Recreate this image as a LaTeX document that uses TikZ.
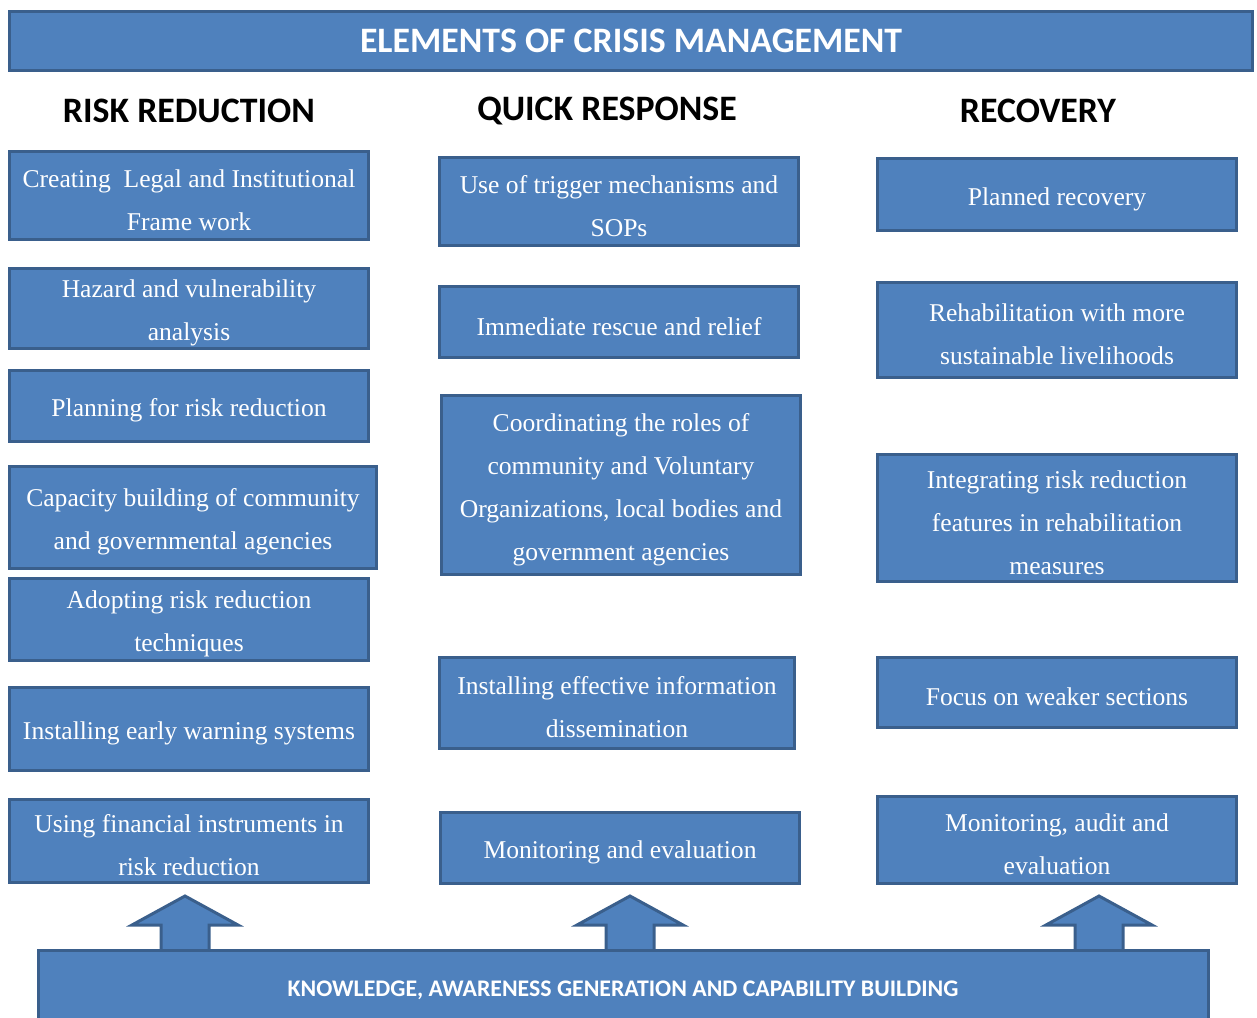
\documentclass[tikz,border=0pt]{standalone}
\usepackage{fontspec}
\setmainfont{Liberation Serif}
\newfontfamily\headfont{Carlito}
\usepackage{xcolor}
\usepackage{tikz}
\usetikzlibrary{positioning}
\definecolor{colorFill}{HTML}{4F81BD}
\definecolor{colorEdge}{HTML}{3A5F8C}
\tikzset{
   box/.style={draw=colorEdge,fill=colorFill,line width=3pt,text=white,
      text width=350pt,align=flush center,inner sep=2pt,
      font=\fontsize{25.6}{43}\selectfont,
      execute at begin node={\rule{0pt}{27pt}}},
   banner/.style={draw=colorEdge,fill=colorFill,line width=3pt,text=white,
      font=\headfont\bfseries\fontsize{35.8}{40}\selectfont},
   colhead/.style={text=black,font=\headfont\bfseries\fontsize{35.8}{40}\selectfont},
   uparrow/.style={draw=colorEdge,fill=colorFill,line width=3pt,line join=miter},
}

\begin{document}
\begin{tikzpicture}[x=1pt,y=-1pt]

\useasboundingbox (0,0) rectangle (1257,1017);

% =========================================================
% title
% =========================================================

\node[banner, minimum width=1243pt, minimum height=59pt] (title) at (631,41)
{ELEMENTS OF CRISIS MANAGEMENT};

\node[colhead] (headRisk) at (189,111) {RISK REDUCTION};
\node[colhead] (headResp) at (607,111) {QUICK RESPONSE};
\node[colhead] (headRecov) at (1038,111) {RECOVERY};


% =========================================================
% risk reduction
% =========================================================

\node[box, minimum width=359pt, minimum height=88pt] (risk1) at (189,195.5)
{Creating\ \ Legal and Institutional\\ Frame work};
\node[box, minimum width=359pt, minimum height=76pt] (risk2) at (189,308.5)
{Hazard and vulnerability\\ analysis};
\node[box, minimum width=359pt, minimum height=71pt] (risk3) at (189,406)
{Planning for risk reduction};
\node[box, minimum width=367pt, minimum height=102pt] (risk4) at (193,517.5)
{Capacity building of community\\ and governmental agencies};
\node[box, minimum width=359pt, minimum height=82pt] (risk5) at (189,619.5)
{Adopting risk reduction\\ techniques};
\node[box, minimum width=359pt, minimum height=83pt] (risk6) at (189,729)
{Installing early warning systems};
\node[box, minimum width=359pt, minimum height=83pt] (risk7) at (189,841)
{Using financial instruments in\\ risk reduction};


% =========================================================
% quick response
% =========================================================

\node[box, minimum width=359pt, minimum height=88pt] (resp1) at (619,201.5)
{Use of trigger mechanisms and\\ SOPs};
\node[box, minimum width=359pt, minimum height=71pt] (resp2) at (619,322)
{Immediate rescue and relief};
\node[box, minimum width=359pt, minimum height=179pt] (resp3) at (621,485)
{Coordinating the roles of\\ community and Voluntary\\ Organizations, local bodies and\\ government agencies};
\node[box, minimum width=355pt, minimum height=91pt] (resp4) at (617,703)
{Installing effective information\\ dissemination};
\node[box, minimum width=359pt, minimum height=71pt] (resp5) at (620,848)
{Monitoring and evaluation};


% =========================================================
% recovery
% =========================================================

\node[box, minimum width=359pt, minimum height=72pt] (recov1) at (1057,194.5)
{Planned recovery};
\node[box, minimum width=359pt, minimum height=95pt] (recov2) at (1057,330)
{Rehabilitation with more\\ sustainable livelihoods};
\node[box, minimum width=359pt, minimum height=127pt] (recov3) at (1057,518)
{Integrating risk reduction\\ features in rehabilitation\\ measures};
\node[box, minimum width=359pt, minimum height=70pt] (recov4) at (1057,692.5)
{Focus on weaker sections};
\node[box, minimum width=359pt, minimum height=87pt] (recov5) at (1057,840)
{Monitoring, audit and\\ evaluation};


% =========================================================
% base
% =========================================================

% block arrows up from the base bar
\foreach \ax in {185,630,1099}
   \draw[uparrow] (\ax-24,952) -- (\ax-24,925) -- (\ax-53,925) -- (\ax,896)
      -- (\ax+53,925) -- (\ax+24,925) -- (\ax+24,952) -- cycle;

\node[banner, minimum width=1170pt, minimum height=80pt,
   font=\headfont\bfseries\fontsize{23.8}{26}\selectfont] (base) at (623,990)
{KNOWLEDGE, AWARENESS GENERATION AND CAPABILITY BUILDING};


\end{tikzpicture}
\end{document}
